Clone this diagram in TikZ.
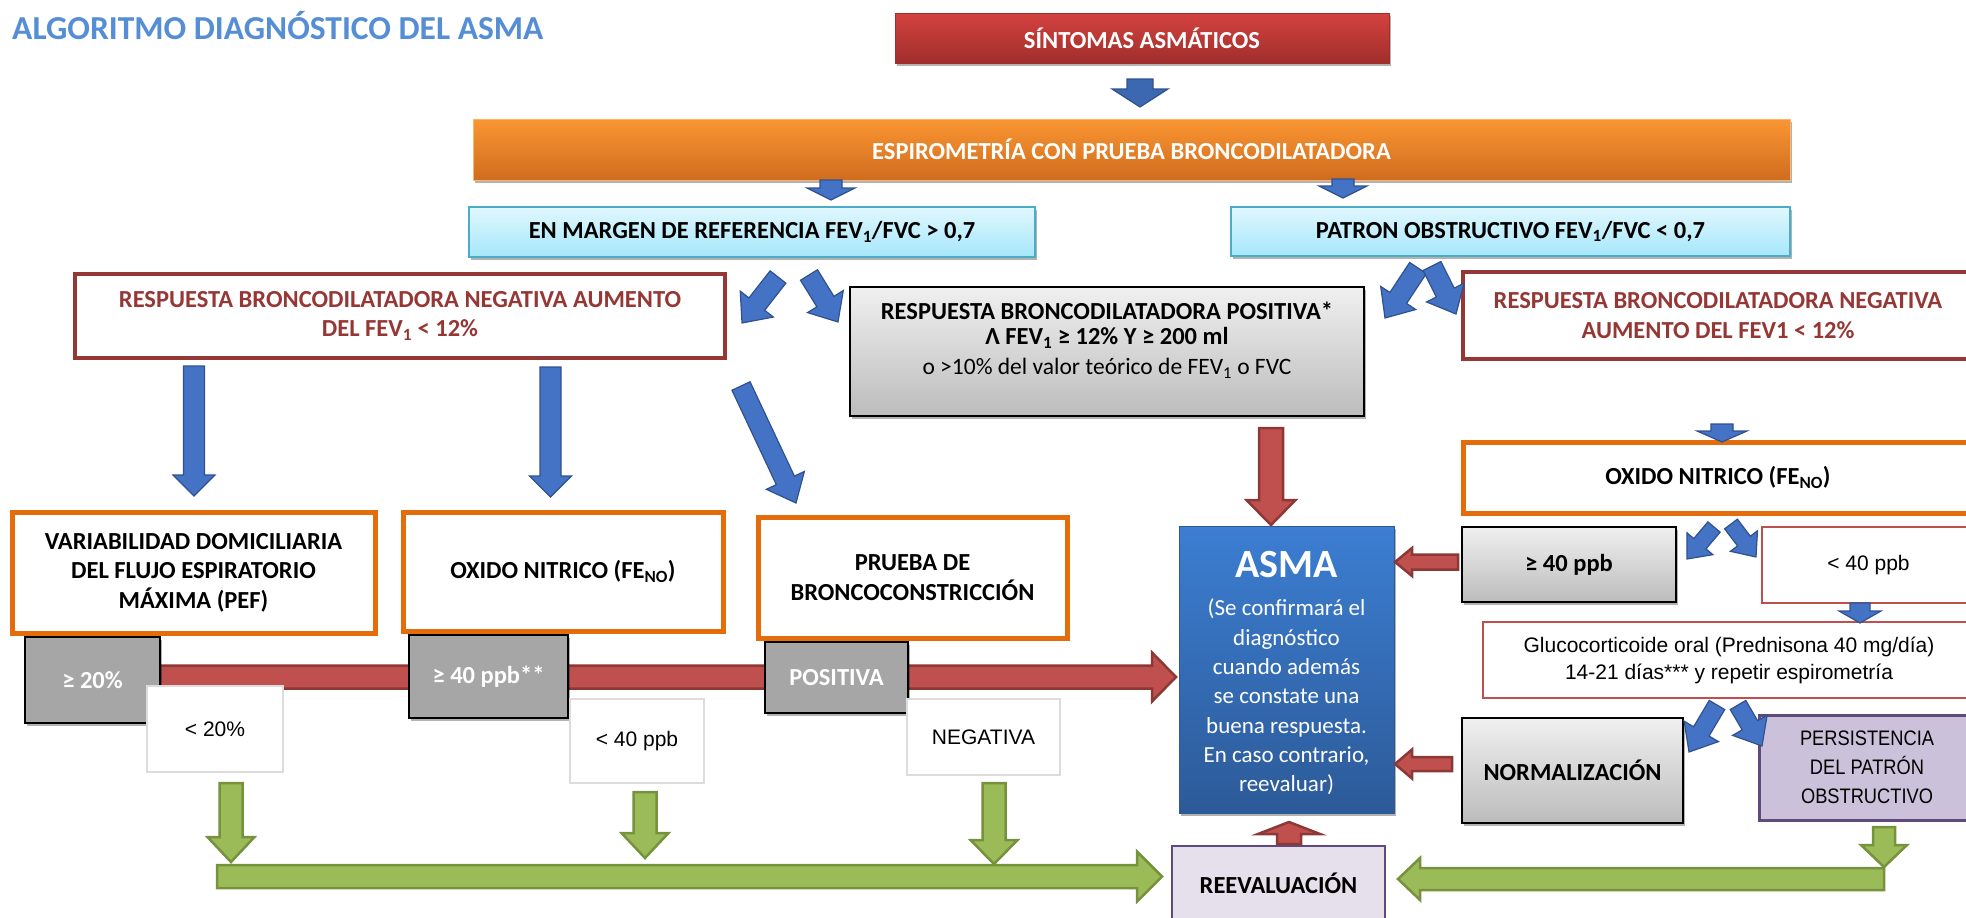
\documentclass[tikz,border=0pt]{standalone}
\usepackage{fontspec}
\setmainfont{Carlito}
\newfontfamily\arialf{Liberation Sans}
\newfontfamily\arialn[FakeStretch=0.87]{Liberation Sans}
\usetikzlibrary{calc,shadows}

\definecolor{titleblue}{RGB}{85,142,213}
\definecolor{sintT}{RGB}{212,66,63}
\definecolor{sintB}{RGB}{160,46,44}
\definecolor{oraT}{RGB}{250,150,50}
\definecolor{oraB}{RGB}{208,108,30}
\definecolor{cyanT}{RGB}{224,247,253}
\definecolor{cyanB}{RGB}{166,231,251}
\definecolor{cyanD}{RGB}{75,172,198}
\definecolor{dred}{RGB}{149,55,53}
\definecolor{lred}{RGB}{192,80,77}
\definecolor{orgb}{RGB}{228,108,10}
\definecolor{grayT}{RGB}{240,240,240}
\definecolor{grayB}{RGB}{188,188,188}
\definecolor{grayM}{RGB}{166,166,166}
\definecolor{lgrayb}{RGB}{220,220,220}
\definecolor{asmaT}{RGB}{60,126,210}
\definecolor{asmaB}{RGB}{44,90,152}
\definecolor{purF}{RGB}{204,193,218}
\definecolor{purD}{RGB}{96,74,123}
\definecolor{lavF}{RGB}{229,224,236}
\definecolor{arrB}{RGB}{68,114,196}
\definecolor{arrBd}{RGB}{47,82,143}
\definecolor{arrBt}{RGB}{60,104,178}
\definecolor{arrR}{RGB}{192,80,77}
\definecolor{arrRd}{RGB}{140,56,54}
\definecolor{arrG}{RGB}{155,187,89}
\definecolor{arrGd}{RGB}{118,146,60}

\newcommand\fatarrow[6]{%
  \path[#1] let \p1=(#2), \p2=(#3),
    \n1={atan2(\y2-\y1,\x2-\x1)}, \n2={veclen(\x2-\x1,\y2-\y1)} in
    [shift={(\p1)}, rotate=\n1]
    (0,#4) -- ({\n2-#6},#4) -- ({\n2-#6},#5) -- (\n2,0)
    -- ({\n2-#6},-#5) -- ({\n2-#6},-#4) -- (0,-#4) -- cycle;}

\tikzset{
  box/.style={rectangle, inner sep=0pt, align=center},
  shad/.style={drop shadow={shadow xshift=2pt, shadow yshift=-3pt, opacity=0.3, fill=black}},
  lbl/.style={font=\fontsize{24.5}{29.5}\selectfont\bfseries},
  arl/.style={font=\arialf\fontsize{21}{27}\selectfont},
  cyanbox/.style={box, shad, top color=cyanT, bottom color=cyanB, draw=cyanD, line width=2pt, lbl},
  negbox/.style={box, fill=white, draw=dred, line width=4pt, text=dred, lbl},
  graybox/.style={box, shad, top color=grayT, bottom color=grayB, draw=black, line width=2pt},
  orgbox/.style={box, fill=white, draw=orgb, line width=5pt, lbl},
  mgray/.style={box, shad, fill=grayM, draw=black, line width=2pt, text=white, lbl},
  whitebox/.style={box, fill=white, draw=lgrayb, line width=2.5pt, arl},
  redthin/.style={box, fill=white, draw=lred, line width=2.5pt, arl},
  blueA/.style={fill=arrB, draw=arrBd, line width=1.2pt},
  blueT/.style={fill=arrBt, draw=arrBd, line width=1.2pt},
  redA/.style={fill=arrR, draw=arrRd, line width=2.5pt},
  greenA/.style={fill=arrG, draw=arrGd, line width=2.5pt},
}

\begin{document}
\begin{tikzpicture}[x=1pt, y=-1pt]
\useasboundingbox (0,0) rectangle (1966,918);

% ---- coordinates for block arrows ----
\coordinate (rb1) at (160,677);   \coordinate (rb2) at (1176,677);
\coordinate (gb1) at (217,876.5); \coordinate (gb2) at (1162,876.5);
\coordinate (gr1) at (1884,879);  \coordinate (gr2) at (1398,879);
\coordinate (gd1s) at (231,783);  \coordinate (gd1e) at (231,862);
\coordinate (gd2s) at (645,792);  \coordinate (gd2e) at (645,858);
\coordinate (gd3s) at (994,783);  \coordinate (gd3e) at (994,864);
\coordinate (gd4s) at (1884,827); \coordinate (gd4e) at (1884,867);

% background bars
\fatarrow{redA}{rb1}{rb2}{11.5}{24.5}{24}
\fatarrow{greenA}{gb1}{gb2}{11.5}{25}{25}
\fatarrow{greenA}{gr1}{gr2}{11}{21}{22}

% ---- title ----
\node[anchor=base west, inner sep=0pt, text=titleblue, font=\fontsize{33.5}{36}\selectfont\bfseries] (title) at (12,39) {ALGORITMO DIAGNÓSTICO DEL ASMA};

% ---- boxes ----
\node[box, shad, draw=sintB, line width=1pt, top color=sintT, bottom color=sintB, text=white, lbl, minimum width=494pt, minimum height=50pt] (sint) at (1142,38) {SÍNTOMAS ASMÁTICOS};
\node[box, shad, draw=oraT!70!white, line width=1pt, top color=oraT, bottom color=oraB, text=white, lbl, minimum width=1317pt, minimum height=61pt] (espiro) at (1131.5,149.5) {ESPIROMETRÍA CON PRUEBA BRONCODILATADORA};
\node[cyanbox, minimum width=566pt, minimum height=50pt] (margen) at (752,232) {EN MARGEN DE REFERENCIA FEV\textsubscript{1}/FVC > 0,7};
\node[cyanbox, minimum width=559pt, minimum height=49pt] (patron) at (1510.5,231.5) {PATRON OBSTRUCTIVO FEV\textsubscript{1}/FVC < 0,7};

\node[negbox, minimum width=650pt, minimum height=84pt] (negL) at (400,316) {RESPUESTA BRONCODILATADORA NEGATIVA AUMENTO\\DEL FEV\textsubscript{1} < 12\%};
\node[graybox, minimum width=514pt, minimum height=129pt] (posi) at (1107,351.5) {};
\node[lbl, align=center, inner sep=0pt] (posiT) at (1107,340) {RESPUESTA BRONCODILATADORA POSITIVA*\\[-4pt]Λ FEV\textsubscript{1} ≥ 12\% Y ≥ 200 ml\\{\fontsize{23.5}{29.5}\selectfont\mdseries o >10\% del valor teórico de FEV\textsubscript{1} o FVC}};
\node[negbox, minimum width=510pt, minimum height=87pt] (negR) at (1718,315.5) {RESPUESTA BRONCODILATADORA NEGATIVA\\AUMENTO DEL FEV1 < 12\%};

\node[orgbox, minimum width=363pt, minimum height=121pt] (var) at (193.5,572.5) {VARIABILIDAD DOMICILIARIA\\DEL FLUJO ESPIRATORIO\\MÁXIMA (PEF)};
\node[orgbox, minimum width=320pt, minimum height=119pt] (oxM) at (563,571.5) {OXIDO NITRICO (FE\textsubscript{NO})};
\node[orgbox, minimum width=309pt, minimum height=121pt] (prueba) at (912.5,577.5) {PRUEBA DE\\BRONCOCONSTRICCIÓN};
\node[orgbox, minimum width=510pt, minimum height=71pt] (oxR) at (1718,477.5) {OXIDO NITRICO (FE\textsubscript{NO})};

\node[mgray, minimum width=135pt, minimum height=86pt] (g20) at (92.5,680) {≥ 20\%};
\node[whitebox, minimum width=136pt, minimum height=86pt] (l20) at (215,729) {< 20\%};
\node[mgray, minimum width=159pt, minimum height=83pt] (g40) at (488.5,676.5) {≥ 40 ppb**};
\node[whitebox, minimum width=134pt, minimum height=84pt] (l40) at (637,741) {< 40 ppb};
\node[mgray, minimum width=143pt, minimum height=71pt] (gpos) at (836.5,677.5) {POSITIVA};
\node[whitebox, minimum width=153pt, minimum height=76pt] (lneg) at (983.5,737) {NEGATIVA};

\node[box, shad, top color=asmaT, bottom color=asmaB, draw=asmaB, line width=0.8pt, minimum width=215pt, minimum height=287pt] (asma) at (1286.5,669.5) {};
\node[text=white, inner sep=0pt, font=\fontsize{40}{40}\selectfont\bfseries] (asmaT) at (1286.5,565) {ASMA};
\node[text=white, inner sep=0pt, align=center, font=\fontsize{23}{29.3}\selectfont] (asmaP) at (1286.5,697) {(Se confirmará el\\diagnóstico\\cuando además\\se constate una\\buena respuesta.\\En caso contrario,\\reevaluar)};

\node[box, fill=lavF, draw=purD, line width=2.5pt, lbl, minimum width=213pt, minimum height=74pt] (reev) at (1278.5,883) {REEVALUACIÓN};

\node[graybox, lbl, minimum width=214pt, minimum height=75pt] (g40R) at (1569,564.5) {≥ 40 ppb};
\node[redthin, minimum width=213pt, minimum height=76pt] (l40R) at (1868.5,565) {< 40 ppb};
\node[redthin, minimum width=492pt, minimum height=76pt] (gluc) at (1729,660) {Glucocorticoide oral (Prednisona 40 mg/día)\\14-21 días*** y repetir espirometría};
\node[graybox, lbl, minimum width=221pt, minimum height=105pt] (norm) at (1572.5,770.5) {NORMALIZACIÓN};
\node[box, fill=purF, draw=purD, line width=3pt, font=\arialn\fontsize{21}{29}\selectfont, minimum width=216pt, minimum height=105pt] (pers) at (1867,767.5) {PERSISTENCIA\\DEL PATRÓN\\OBSTRUCTIVO};

% ---- arrow coordinates ----
\coordinate (a0s) at (1140,79);   \coordinate (a0e) at (1140,107);
\coordinate (a1s) at (831,180);   \coordinate (a1e) at (831,200);
\coordinate (a2s) at (1343,179);  \coordinate (a2e) at (1343,198);
\coordinate (a3s) at (778,277);   \coordinate (a3e) at (742,323);
\coordinate (a4s) at (809,275);   \coordinate (a4e) at (838,322);
\coordinate (a5s) at (1418,268);  \coordinate (a5e) at (1385,318);
\coordinate (a6s) at (1432,266);  \coordinate (a6e) at (1456,314);
\coordinate (a7s) at (194,366);   \coordinate (a7e) at (194,496);
\coordinate (a8s) at (550.5,367); \coordinate (a8e) at (550.5,497);
\coordinate (a9s) at (741,386);   \coordinate (a9e) at (796,503);
\coordinate (a10s) at (1271,428); \coordinate (a10e) at (1271,525);
\coordinate (a11s) at (1722,424); \coordinate (a11e) at (1722,442);
\coordinate (a12s) at (1714,527); \coordinate (a12e) at (1687,559);
\coordinate (a13s) at (1731,524); \coordinate (a13e) at (1756,557);
\coordinate (a14s) at (1860,603); \coordinate (a14e) at (1860,623);
\coordinate (a15s) at (1717,705); \coordinate (a15e) at (1689,752);
\coordinate (a16s) at (1738,705); \coordinate (a16e) at (1762,746);
\coordinate (a17s) at (1458,562); \coordinate (a17e) at (1395,562);
\coordinate (a18s) at (1452,764); \coordinate (a18e) at (1395,764);
\coordinate (a19s) at (1289,844); \coordinate (a19e) at (1289,822);

% ---- blue arrows ----
\fatarrow{blueT}{a0s}{a0e}{13}{28}{18}
\fatarrow{blueA}{a1s}{a1e}{11}{24}{12}
\fatarrow{blueA}{a2s}{a2e}{11}{24}{12}
\fatarrow{blueA}{a3s}{a3e}{10}{21}{24}
\fatarrow{blueA}{a4s}{a4e}{10}{21}{24}
\fatarrow{blueA}{a5s}{a5e}{10}{21}{24}
\fatarrow{blueA}{a6s}{a6e}{10}{21}{24}
\fatarrow{blueA}{a7s}{a7e}{10.5}{21}{21}
\fatarrow{blueA}{a8s}{a8e}{10.5}{21}{21}
\fatarrow{blueA}{a9s}{a9e}{10}{21}{25}
\fatarrow{blueA}{a11s}{a11e}{11}{25}{11}
\fatarrow{blueA}{a12s}{a12e}{8}{17}{20}
\fatarrow{blueA}{a13s}{a13e}{8}{17}{20}
\fatarrow{blueA}{a14s}{a14e}{10}{21}{12}
\fatarrow{blueA}{a15s}{a15e}{9}{20}{24}
\fatarrow{blueA}{a16s}{a16e}{9}{20}{24}

% ---- red arrows ----
\fatarrow{redA}{a10s}{a10e}{12}{24.5}{25}
\fatarrow{redA}{a17s}{a17e}{7.5}{14}{17}
\fatarrow{redA}{a18s}{a18e}{7}{14.5}{17}
\fatarrow{redA}{a19s}{a19e}{12}{31}{12}

% ---- green arrows ----
\fatarrow{greenA}{gd1s}{gd1e}{11.5}{23.5}{25}
\fatarrow{greenA}{gd2s}{gd2e}{11.5}{23.5}{25}
\fatarrow{greenA}{gd3s}{gd3e}{11.5}{23.5}{24}
\fatarrow{greenA}{gd4s}{gd4e}{11}{23}{22}
\end{tikzpicture}
\end{document}
